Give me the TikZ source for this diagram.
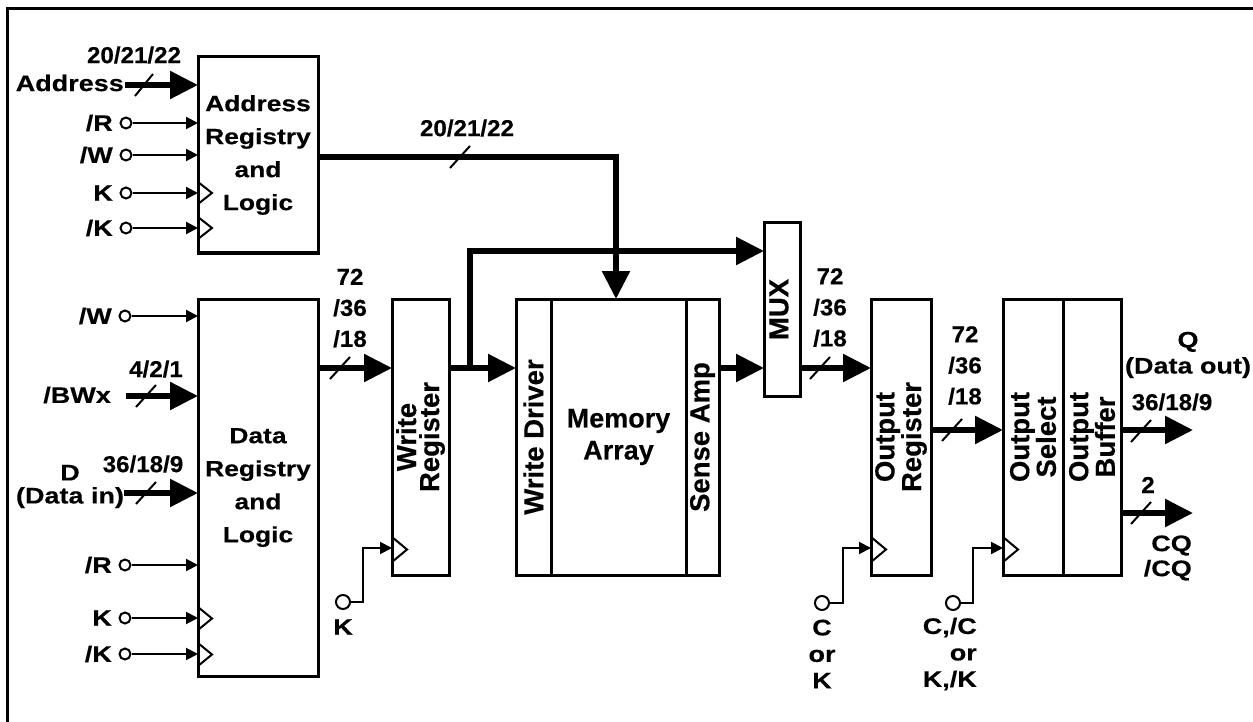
\documentclass[tikz,border=0pt]{standalone}
\usepackage{fontspec}
\setmainfont{Liberation Sans}[BoldFeatures={FakeBold=0.4}]
\newfontfamily\widefont{Liberation Sans}[FakeStretch=1.2,BoldFeatures={FakeBold=0.4}]
\newfontfamily\numfont{Liberation Sans}[FakeStretch=1.05,BoldFeatures={FakeBold=0.4}]
\usetikzlibrary{arrows.meta,calc}
\begin{document}
\begin{tikzpicture}[x=1pt,y=-1pt,
  box/.style={draw, line width=3pt, rectangle, inner sep=0pt, outer sep=0pt},
  blktxt/.style={align=center, font=\widefont\bfseries\fontsize{22}{33}\selectfont},
  rtxt/.style={rotate=90, align=center, inner sep=0pt, font=\bfseries\fontsize{27.5}{23}\selectfont},
  mtxt/.style={align=center, inner sep=0pt, font=\bfseries\fontsize{27}{32}\selectfont},
  lbl/.style={inner sep=0pt, align=center, font=\widefont\bfseries\fontsize{22.5}{26.5}\selectfont},
  num/.style={inner sep=0pt, align=center, font=\numfont\bfseries\fontsize{23}{31}\selectfont},
  bus/.style={line width=5.5pt, line join=miter, -{Triangle[length=28pt,width=27pt]}},
  sig/.style={line width=2pt, -{Triangle[length=12pt,width=12pt]}},
  clk/.style={line width=2pt, line join=miter},
  slash/.style={line width=2pt},
  pin/.style={draw, circle, line width=2pt, minimum size=11pt, inner sep=0pt, fill=white},
  bpin/.style={draw, circle, line width=2pt, minimum size=14pt, inner sep=0pt, fill=white}
]
\useasboundingbox (0,0) rectangle (1253,722);
% frame (top and left edges visible)
\draw[line width=3pt] (7.5,722) -- (7.5,8.5) -- (1253,8.5);

% ---------- Address block ----------
\node[box, minimum width=120pt, minimum height=196pt, blktxt] (addr) at (258,155) {Address\\Registry\\and\\Logic};
\node[lbl, anchor=east] (laddr) at (124,83) {Address};
\coordinate (aaddr) at (125,85);
\draw[bus] (aaddr) -- (aaddr -| addr.west);
\draw[slash] (144,85) ++(-9,11) -- ++(18,-22);
\node[num] (naddr) at (134,55) {20/21/22};

\node[lbl, anchor=east] (laR) at (113,123) {/R};
\node[pin] (caR) at (126,123) {};
\draw[sig] (caR) -- (caR -| addr.west);
\node[lbl, anchor=east] (laW) at (113,155) {/W};
\node[pin] (caW) at (126,155) {};
\draw[sig] (caW) -- (caW -| addr.west);
\node[lbl, anchor=east] (laK) at (113,193) {K};
\node[pin] (caK) at (126,193) {};
\draw[sig] (caK) -- (caK -| addr.west);
\draw[clk] (addr.west |- 0,182) -- (212,193) -- (addr.west |- 0,204);
\node[lbl, anchor=east] (laKn) at (113,228) {/K};
\node[pin] (caKn) at (126,228) {};
\draw[sig] (caKn) -- (caKn -| addr.west);
\draw[clk] (addr.west |- 0,217) -- (212,228) -- (addr.west |- 0,239);

% ---------- Data block ----------
\node[box, minimum width=120pt, minimum height=377pt, blktxt] (data) at (258,487.5) {Data\\Registry\\and\\Logic};
\node[lbl, anchor=east] (ldW) at (112,316) {/W};
\node[pin] (cdW) at (125,316) {};
\draw[sig] (cdW) -- (cdW -| data.west);

\node[lbl, anchor=east] (ldBW) at (111,395) {/BWx};
\coordinate (abw) at (126,396);
\draw[bus] (abw) -- (abw -| data.west);
\draw[slash] (146,396) ++(-10,11) -- ++(20,-22);
\node[num] (nbw) at (156,369) {4/2/1};

\node[lbl] (ldD) at (70,486.5) {D\\[-3.5pt](Data in)};
\coordinate (ad) at (124,493);
\draw[bus] (ad) -- (ad -| data.west);
\draw[slash] (146,493) ++(-10,11) -- ++(20,-22);
\node[num] (nd) at (143,464) {36/18/9};

\node[lbl, anchor=east] (ldR) at (112,565) {/R};
\node[pin] (cdR) at (125,565) {};
\draw[sig] (cdR) -- (cdR -| data.west);
\node[lbl, anchor=east] (ldK) at (112,618) {K};
\node[pin] (cdK) at (125,618) {};
\draw[sig] (cdK) -- (cdK -| data.west);
\draw[clk] (data.west |- 0,607) -- (212,618.5) -- (data.west |- 0,630);
\node[lbl, anchor=east] (ldKn) at (112,654) {/K};
\node[pin] (cdKn) at (125,654) {};
\draw[sig] (cdKn) -- (cdKn -| data.west);
\draw[clk] (data.west |- 0,643) -- (212,654.5) -- (data.west |- 0,666);

% ---------- Write register ----------
\node[box, minimum width=57pt, minimum height=276pt] (wreg) at (420.5,437) {};
\node[rtxt] (twreg) at (wreg) {Write\\Register};
\draw[bus] (data.east |- 0,368) -- (wreg.west |- 0,368);
\draw[slash] (340,368) ++(-10,11) -- ++(20,-22);
\node[num] (nwr) at (350,308) {72\\/36\\/18};
\node[bpin] (cwk) at (343,602) {};
\draw[sig] (cwk) -- (363,602) |- (wreg.west |- 0,548);
\draw[clk] (wreg.west |- 0,537) -- (407,549.5) -- (wreg.west |- 0,562);
\node[lbl] (lwk) at (343,627) {K};

% ---------- Memory ----------
\node[box, minimum width=35pt, minimum height=276pt] (wdrv) at (533.5,437) {};
\node[box, minimum width=135pt, minimum height=276pt] (marr) at (618.5,437) {};
\node[box, minimum width=33pt, minimum height=276pt] (samp) at (702.5,437) {};
\node[rtxt] (twdrv) at (wdrv) {Write Driver};
\node[mtxt] (tmarr) at (marr) {Memory\\Array};
\node[rtxt] (tsamp) at (samp) {Sense Amp};
\draw[bus] (wreg.east |- 0,368) -- (wdrv.west |- 0,368);

% ---------- MUX ----------
\node[box, minimum width=36pt, minimum height=173pt] (mux) at (782,309.5) {};
\node[rtxt] (tmux) at (779,309.5) {MUX};
\coordinate (br) at (470,370);
\draw[bus] (br) |- (mux.west |- 0,251);
\draw[bus] (addr.east |- 0,157) -| ([xshift=-2.5pt]marr.north);
\draw[slash] (460,157) ++(-10,11) -- ++(20,-22);
\node[num] (nab) at (467,128) {20/21/22};
\draw[bus] (samp.east |- 0,368) -- (mux.west |- 0,368);

% ---------- Output register ----------
\node[box, minimum width=60pt, minimum height=276pt] (oreg) at (901,437) {};
\node[rtxt] (toreg) at (oreg) {Output\\Register};
\draw[bus] (mux.east |- 0,368) -- (oreg.west |- 0,368);
\draw[slash] (820,368) ++(-10,11) -- ++(20,-22);
\node[num] (nmo) at (830,307.5) {72\\/36\\/18};
\node[bpin] (cok) at (822,603) {};
\draw[sig] (cok) -- (843,603) |- (oreg.west |- 0,548);
\draw[clk] (oreg.west |- 0,537) -- (886,549.5) -- (oreg.west |- 0,562);
\node[lbl] (lok) at (822,654) {C\\or\\K};

% ---------- Output select / buffer ----------
\node[box, minimum width=60pt, minimum height=276pt] (osel) at (1033,437) {};
\node[box, minimum width=58pt, minimum height=276pt] (obuf) at (1092,437) {};
\node[rtxt] (tosel) at (osel) {Output\\Select};
\node[rtxt] (tobuf) at (obuf) {Output\\Buffer};
\draw[bus] (oreg.east |- 0,430) -- (osel.west |- 0,430);
\draw[slash] (952,430) ++(-10,11) -- ++(20,-22);
\node[num] (nos) at (965,365.5) {72\\/36\\/18};
\node[bpin] (csk) at (953,603) {};
\draw[sig] (csk) -- (973,603) |- (osel.west |- 0,548);
\draw[clk] (osel.west |- 0,537) -- (1018,549.5) -- (osel.west |- 0,562);
\node[lbl, align=right, anchor=east] (lsk) at (977,654) {C,/C\\or\\K,/K};

% ---------- Outputs ----------
\coordinate (qend) at (1193,430);
\draw[bus] (obuf.east |- qend) -- (qend);
\draw[slash] (1141,431) ++(-10,11) -- ++(20,-22);
\node[num] (nq) at (1172,402) {36/18/9};
\node[lbl] (lq) at (1188,355) {Q\\[-0.5pt](Data out)};
\coordinate (cqend) at (1193,513);
\draw[bus] (obuf.east |- cqend) -- (cqend);
\draw[slash] (1141,513) ++(-10,11) -- ++(20,-22);
\node[num] (ncq) at (1148,485) {2};
\node[lbl, align=right, anchor=east] (lcq) at (1192,558) {CQ\\[-1.5pt]/CQ};
\end{tikzpicture}
\end{document}
